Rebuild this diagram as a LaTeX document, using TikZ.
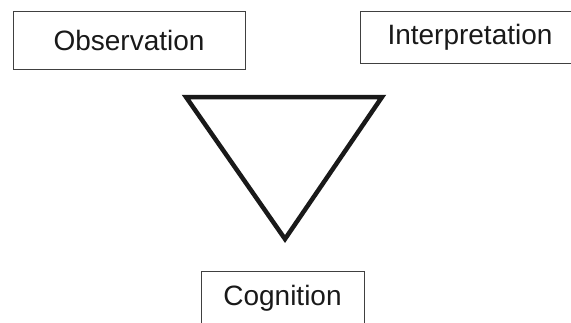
\documentclass[tikz,border=0pt]{standalone}
\usepackage{fontspec}
\setmainfont{Liberation Sans}
\begin{document}
\begin{tikzpicture}[x=1pt,y=1pt,
  labelbox/.style={draw=black!75, line width=1pt, inner sep=0pt, font=\fontsize{28}{33}\selectfont, text=black!90}]
\useasboundingbox (0,0) rectangle (571,-322);
\clip (0,0) rectangle (571,-322);
\node[labelbox, minimum width=232, minimum height=58] (obs) at (129,-40) {Observation};
\node[labelbox, minimum width=220, minimum height=52] (interp) at (470,-37) {Interpretation};
\node[labelbox, minimum width=163, minimum height=54] (cog) at (282.5,-298) {Cognition};
\coordinate (tl) at (186,-97);
\coordinate (tr) at (382,-97);
\coordinate (tb) at (285,-239);
\draw[line width=4.5pt, line join=miter, black!90] (tl) -- (tr) -- (tb) -- cycle;
\end{tikzpicture}
\end{document}
